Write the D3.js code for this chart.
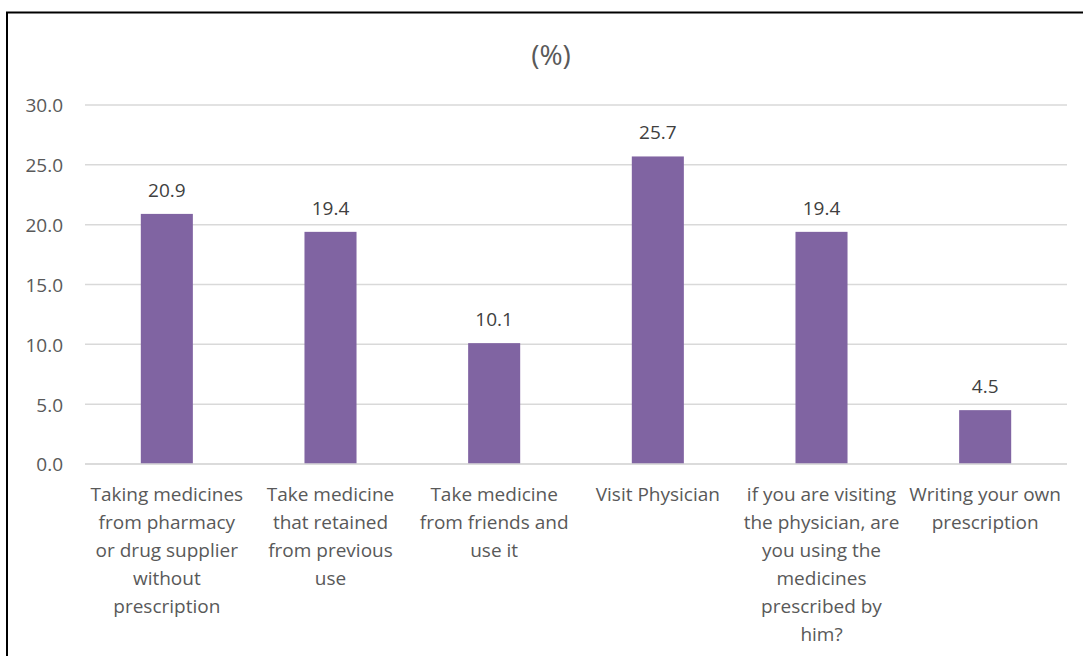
<!DOCTYPE html>
<html>
<head>
<meta charset="utf-8">
<script src="https://cdn.jsdelivr.net/npm/d3@7"></script>
<style>
  html, body { margin: 0; padding: 0; background: #ffffff; }
  svg { display: block; }
</style>
</head>
<body>
<svg id="chart" width="1083" height="656"></svg>
<script>
const title = "(%)";
const categories = [
  "Taking medicines from pharmacy or drug supplier without prescription",
  "Take medicine that retained from previous use",
  "Take medicine from friends and use it",
  "Visit Physician",
  "if you are visiting the physician, are you using the medicines prescribed by him?",
  "Writing your own prescription"
];
const categoryLines = [
  ["Taking medicines", "from pharmacy", "or drug supplier", "without", "prescription"],
  ["Take medicine", "that retained", "from previous", "use"],
  ["Take medicine", "from friends and", "use it"],
  ["Visit Physician"],
  ["if you are visiting", "the physician, are", "you using the", "medicines", "prescribed by", "him?"],
  ["Writing your own", "prescription"]
];
const values = [20.9, 19.4, 10.1, 25.7, 19.4, 4.5];
const yTicks = [0, 5, 10, 15, 20, 25, 30];

const svg = d3.select("#chart");
const W = 1083, H = 656;
const font = "'Open Sans', 'Liberation Sans', sans-serif";

svg.append("rect").attr("x", 0).attr("y", 0).attr("width", W).attr("height", H).attr("fill", "#fff");

// outer border (top and left visible)
svg.append("path")
  .attr("d", `M7,${H + 5} L7,12.5 L${W + 5},12.5`)
  .attr("fill", "none").attr("stroke", "#000").attr("stroke-width", 2);

const x = d3.scaleBand().domain(categories).range([85, 1067]).paddingInner(0.682).paddingOuter(0.341);
const y = d3.scaleLinear().domain([0, 30]).range([464, 105]);

// gridlines
svg.append("g").selectAll("line").data(yTicks).join("line")
  .attr("x1", 85).attr("x2", 1067)
  .attr("y1", d => y(d)).attr("y2", d => y(d))
  .attr("stroke", "#d9d9d9").attr("stroke-width", 1.5);

// y axis labels
const yAxis = svg.append("g").attr("transform", "translate(63,0)")
  .call(d3.axisLeft(y).tickValues(yTicks).tickFormat(d3.format(".1f")).tickSize(0).tickPadding(0));
yAxis.select(".domain").remove();
yAxis.selectAll("text")
  .attr("font-family", font).attr("font-size", 19).attr("fill", "#595959")
  .attr("dy", "0.36em");

// bars
svg.append("g").selectAll("rect").data(values).join("rect")
  .attr("x", (d, i) => x(categories[i]))
  .attr("width", x.bandwidth())
  .attr("y", d => y(d))
  .attr("height", d => y(0) - y(d))
  .attr("fill", "#8064a2");

// axis line at zero
svg.append("line").attr("x1", 85).attr("x2", 1067).attr("y1", y(0)).attr("y2", y(0))
  .attr("stroke", "#d9d9d9").attr("stroke-width", 1.5);

// value labels
svg.append("g").selectAll("text").data(values).join("text")
  .attr("x", (d, i) => x(categories[i]) + x.bandwidth() / 2)
  .attr("y", d => y(d) - 17)
  .attr("text-anchor", "middle")
  .attr("font-family", font).attr("font-size", 19).attr("fill", "#404040")
  .text(d => d3.format(".1f")(d));

// category labels
const catG = svg.append("g").selectAll("text").data(categories).join("text")
  .attr("text-anchor", "middle")
  .attr("font-family", font).attr("font-size", 19).attr("fill", "#595959");
catG.each(function(d, i) {
  const cx = x(d) + x.bandwidth() / 2;
  d3.select(this).selectAll("tspan").data(categoryLines[i]).join("tspan")
    .attr("x", cx)
    .attr("y", (l, j) => 501 + j * 28)
    .text(l => l);
});

// title
svg.append("text").attr("x", 551).attr("y", 65).attr("text-anchor", "middle")
  .attr("font-family", font).attr("font-size", 28).attr("fill", "#595959")
  .text(title);
</script>
</body>
</html>
